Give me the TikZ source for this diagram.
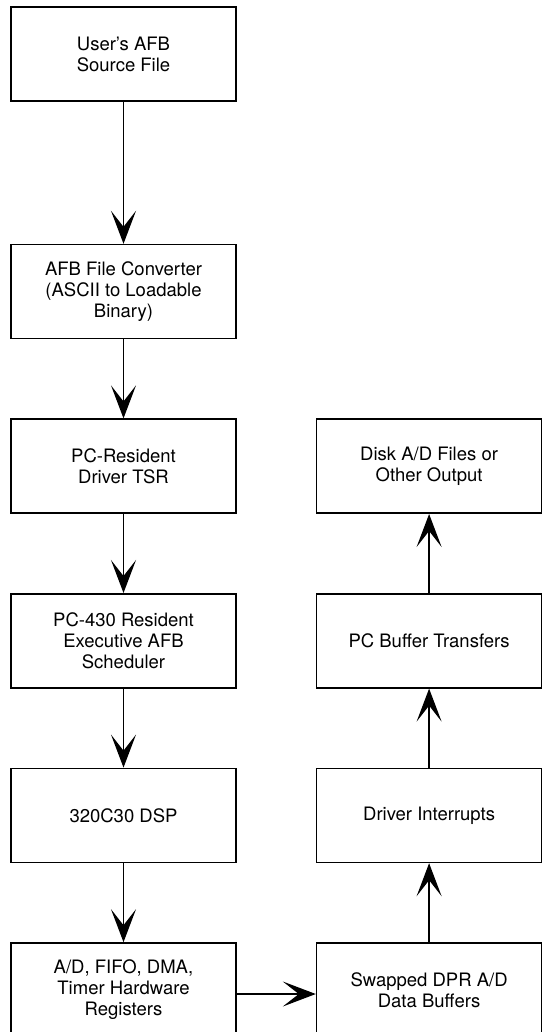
\documentclass[tikz,border=0pt]{standalone}
\usepackage{fontspec}
\setmainfont{TeX Gyre Heros}
\usetikzlibrary{arrows.meta,positioning}
\tikzset{
  fb/.style={draw, line width=1.6pt, align=center,
             font=\fontsize{18.5}{21}\selectfont,
             minimum width=225pt, minimum height=94pt, inner sep=4pt},
  ar/.style={-{Stealth[length=33pt, width=25pt, inset=16pt]}, line width=1.3pt},
}
\begin{document}
\begin{tikzpicture}[node distance=79pt and 79pt]
  \useasboundingbox (0,0) rectangle (543pt,-1032pt);
  % left column, top to bottom
  \node[fb] (src) at (123.5pt,-54pt) {User's AFB\\Source File};
  \node[fb, below=142pt of src] (conv) {AFB File Converter\\(ASCII to Loadable\\Binary)};
  \node[fb, below=of conv] (tsr) {PC-Resident\\Driver TSR};
  \node[fb, below=of tsr] (sched) {PC-430 Resident\\Executive AFB\\Scheduler};
  \node[fb, below=of sched] (dsp) {320C30 DSP};
  \node[fb, below=of dsp] (hw) {A/D, FIFO, DMA,\\Timer Hardware\\Registers};
  % right column, bottom to top
  \node[fb, right=of hw] (swap) {Swapped DPR A/D\\Data Buffers};
  \node[fb, above=of swap] (intr) {Driver Interrupts};
  \node[fb, above=of intr] (xfer) {PC Buffer Transfers};
  \node[fb, above=of xfer] (disk) {Disk A/D Files or\\Other Output};
  \draw[ar] (src) -- (conv);
  \draw[ar] (conv) -- (tsr);
  \draw[ar] (tsr) -- (sched);
  \draw[ar] (sched) -- (dsp);
  \draw[ar] (dsp) -- (hw);
  \draw[ar] ([yshift=-4pt]hw.east) -- ([yshift=-4pt]swap.west);
  \draw[ar] (swap) -- (intr);
  \draw[ar] (intr) -- (xfer);
  \draw[ar] (xfer) -- (disk);
\end{tikzpicture}
\end{document}
